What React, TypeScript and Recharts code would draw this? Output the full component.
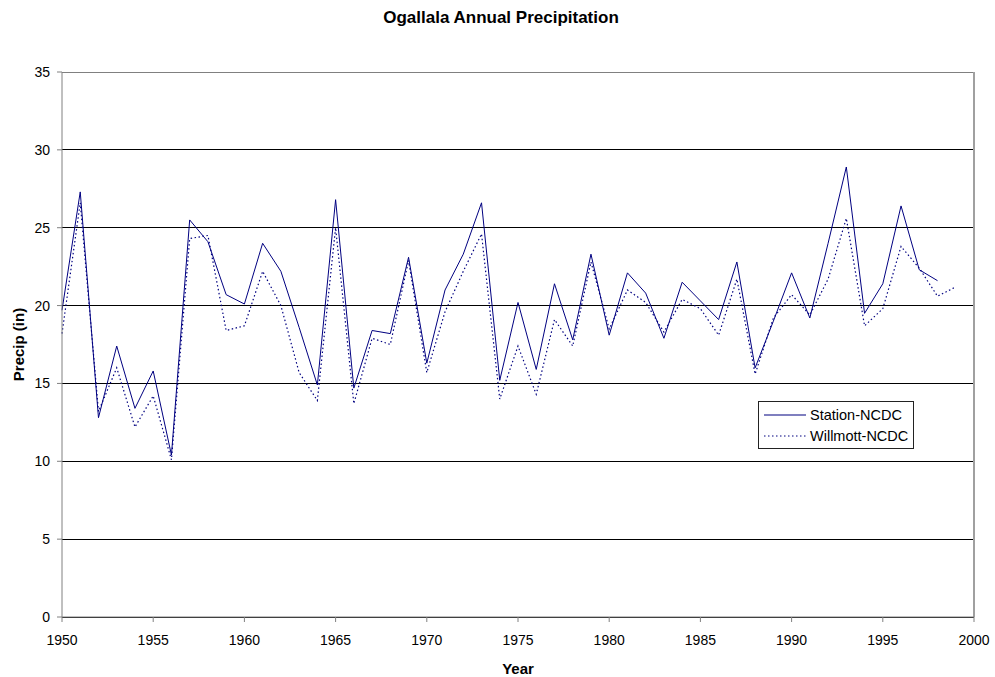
import { LineChart, Line, XAxis, YAxis, CartesianGrid, ReferenceLine, Label } from 'recharts'

const YEARS = [
  1950, 1951, 1952, 1953, 1954, 1955, 1956, 1957, 1958, 1959,
  1960, 1961, 1962, 1963, 1964, 1965, 1966, 1967, 1968, 1969,
  1970, 1971, 1972, 1973, 1974, 1975, 1976, 1977, 1978, 1979,
  1980, 1981, 1982, 1983, 1984, 1985, 1986, 1987, 1988, 1989,
  1990, 1991, 1992, 1993, 1994, 1995, 1996, 1997, 1998, 1999,
]

// annual precip, inches
const STATION_NCDC = [
  19.7, 27.3, 12.8, 17.4, 13.4, 15.8, 10.4, 25.5, 24.1, 20.7,
  20.1, 24.0, 22.2, 18.6, 14.9, 26.8, 14.7, 18.4, 18.2, 23.1,
  16.3, 21.0, 23.3, 26.6, 15.2, 20.2, 15.9, 21.4, 17.8, 23.3,
  18.1, 22.1, 20.8, 17.9, 21.5, 20.3, 19.1, 22.8, 16.0, 19.0,
  22.1, 19.2, 24.0, 28.9, 19.5, 21.4, 26.4, 22.3, 21.6, null,
]

const WILLMOTT_NCDC = [
  18.2, 26.6, 13.2, 16.0, 12.2, 14.2, 10.1, 24.3, 24.5, 18.4,
  18.7, 22.2, 20.0, 15.7, 13.9, 25.0, 13.7, 17.9, 17.5, 22.9,
  15.7, 19.6, 22.2, 24.6, 14.0, 17.4, 14.3, 19.1, 17.4, 22.8,
  18.5, 21.0, 20.2, 18.3, 20.4, 19.8, 18.1, 21.7, 15.6, 19.2,
  20.7, 19.4, 21.7, 25.6, 18.7, 19.8, 23.8, 22.4, 20.6, 21.2,
]

const X_TICKS = [1950, 1955, 1960, 1965, 1970, 1975, 1980, 1985, 1990, 1995, 2000]
const Y_TICKS = [0, 5, 10, 15, 20, 25, 30, 35]

const FONT = '"Liberation Sans", Arial, sans-serif'
const NAVY = '#000080'
const DOTS = '1.5 2.5'

const data = YEARS.map((year, i) => ({
  year,
  station: STATION_NCDC[i],
  willmott: WILLMOTT_NCDC[i],
}))

function LegendBox() {
  const rows = [
    { label: 'Station-NCDC', dash: undefined as string | undefined },
    { label: 'Willmott-NCDC', dash: DOTS },
  ]
  return (
    <div style={{ position: 'absolute', left: 758, top: 401, width: 154, height: 46, border: '1px solid #222', background: '#fff', fontFamily: FONT, fontSize: 14.5, color: '#000' }}>
      {rows.map((r, i) => (
        <div key={r.label} style={{ position: 'absolute', left: 5, top: 4 + i * 21, height: 18, display: 'flex', alignItems: 'center' }}>
          <svg width={42} height={4} style={{ marginRight: 4 }}>
            <line x1={0} y1={2} x2={42} y2={2} stroke={NAVY} strokeWidth={1.2} strokeDasharray={r.dash} />
          </svg>
          <span>{r.label}</span>
        </div>
      ))}
    </div>
  )
}

export default function App() {
  return (
    <div style={{ position: 'absolute', left: 0, top: 0, width: 995, height: 677, background: '#fff', fontFamily: FONT }}>
      <div style={{ position: 'absolute', top: 8, left: 0, width: 1002, textAlign: 'center', fontSize: 17, fontWeight: 'bold', lineHeight: '20px' }}>
        Ogallala Annual Precipitation
      </div>
      <LineChart width={995} height={677} data={data} margin={{ top: 72, right: 21, left: 0, bottom: 0 }}>
        <CartesianGrid stroke="#000" vertical={false} shapeRendering="crispEdges" />
        <XAxis
          dataKey="year"
          type="number"
          domain={[1950, 2000]}
          ticks={X_TICKS}
          interval={0}
          height={60}
          tickSize={5}
          tickMargin={13}
          stroke="#808080"
          tick={{ fontSize: 14, fill: '#000', fontFamily: FONT }}
        >
          <Label value="Year" position="insideBottom" offset={3} style={{ fontSize: 15, fontWeight: 'bold', fill: '#000', fontFamily: FONT }} />
        </XAxis>
        <YAxis
          domain={[0, 35]}
          ticks={Y_TICKS}
          interval={0}
          width={62}
          tickSize={5}
          tickMargin={7}
          stroke="#808080"
          tick={{ fontSize: 14, fill: '#000', fontFamily: FONT }}
        >
          <Label value="Precip (in)" angle={-90} position="insideLeft" offset={19} style={{ textAnchor: 'middle', fontSize: 15, fontWeight: 'bold', fill: '#000', fontFamily: FONT }} />
        </YAxis>
        <ReferenceLine y={35} stroke="#808080" shapeRendering="crispEdges" />
        <ReferenceLine x={2000} stroke="#a0a0a0" strokeWidth={2} />
        <Line dataKey="station" name="Station-NCDC" stroke={NAVY} strokeWidth={1} dot={false} isAnimationActive={false} connectNulls={false} />
        <Line dataKey="willmott" name="Willmott-NCDC" stroke={NAVY} strokeWidth={1.2} strokeDasharray={DOTS} dot={false} isAnimationActive={false} />
      </LineChart>
      <LegendBox />
    </div>
  )
}
